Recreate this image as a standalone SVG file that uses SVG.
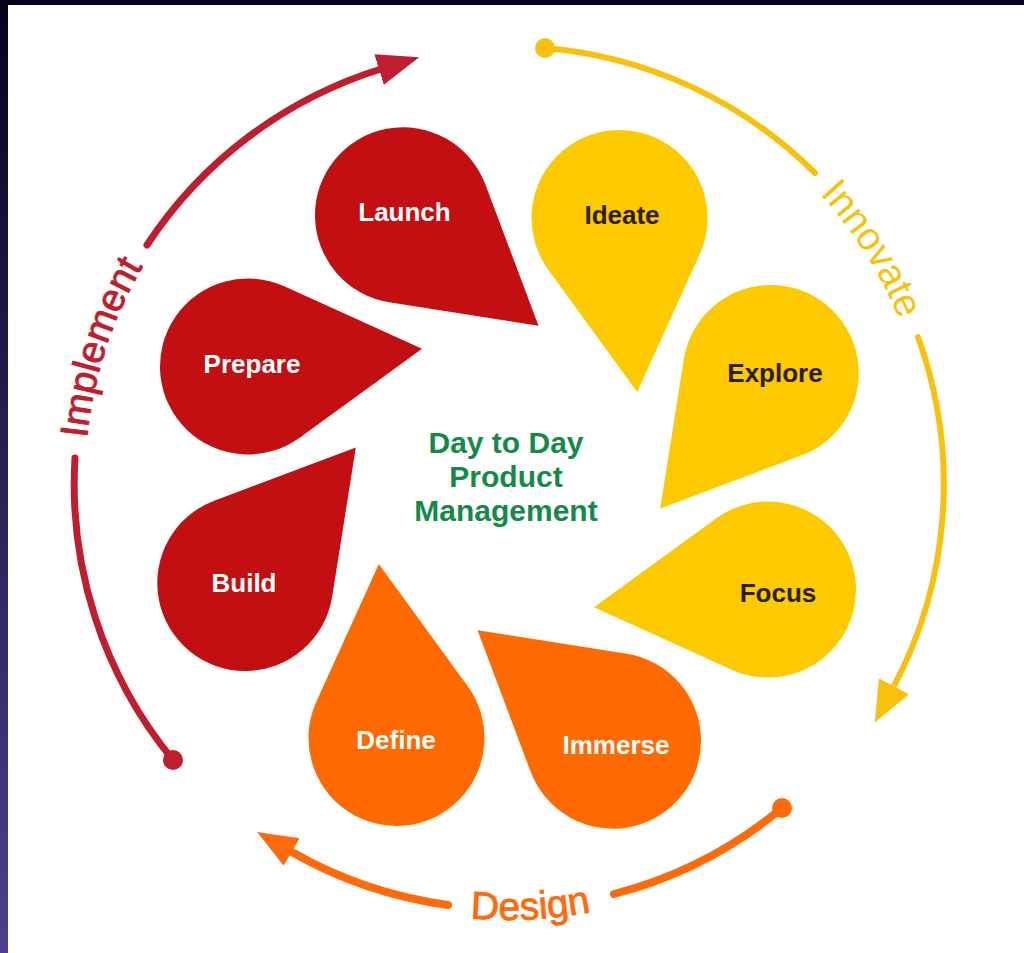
<svg xmlns="http://www.w3.org/2000/svg" width="1024" height="953" viewBox="0 0 1024 953">
<style>
.drop{stroke:none}
.red{fill:#c10f12}
.yel{fill:#fdc900}
.org{fill:#ff6a00}
.lbl{font-family:"Liberation Sans",Arial,sans-serif;font-weight:bold;font-size:26px;text-anchor:middle}
.lw{fill:#ffffff}
.ld{fill:#2a2012}
.title{font-family:"Liberation Sans",Arial,sans-serif;font-weight:bold;font-size:30px;text-anchor:middle;fill:#148a47}
.arc{fill:none;stroke-linecap:round}
.arcl{font-family:"Liberation Sans",Arial,sans-serif;font-size:39px}
.thick{stroke-width:0.9px}
</style>
<defs>
<linearGradient id="side" x1="0" y1="0" x2="0" y2="1">
<stop offset="0" stop-color="#05031c"/>
<stop offset="1" stop-color="#4d3f8f"/>
</linearGradient>
<path id="drop" d="M175,0 L44.3,-76.1 A88,88 0 1 0 44.3,76.1 Z"/>
<marker id="arrR" viewBox="0 -20 50 40" markerWidth="50" markerHeight="40" refX="2" refY="0" orient="auto" markerUnits="userSpaceOnUse"><path d="M0,-16 L42,0 L0,16 Z" fill="#be1e2d"/></marker>
<marker id="arrY" viewBox="0 -20 50 40" markerWidth="50" markerHeight="40" refX="2" refY="0" orient="auto" markerUnits="userSpaceOnUse"><path d="M0,-17 L41,0 L0,17 Z" fill="#f9c10e"/></marker>
<marker id="arrO" viewBox="0 -20 50 40" markerWidth="50" markerHeight="40" refX="2" refY="0" orient="auto" markerUnits="userSpaceOnUse"><path d="M0,-16 L40,0 L0,16 Z" fill="#ff6b0a"/></marker>
<marker id="dotR" viewBox="-12 -12 24 24" markerWidth="24" markerHeight="24" refX="0" refY="0" markerUnits="userSpaceOnUse"><circle r="10" fill="#be1e2d"/></marker>
<marker id="dotY" viewBox="-12 -12 24 24" markerWidth="24" markerHeight="24" refX="0" refY="0" markerUnits="userSpaceOnUse"><circle r="10" fill="#f9c10e"/></marker>
<marker id="dotO" viewBox="-12 -12 24 24" markerWidth="24" markerHeight="24" refX="0" refY="0" markerUnits="userSpaceOnUse"><circle r="10" fill="#ff6b0a"/></marker>
<path id="tpImpl" d="M141.7,691.5 A423,423 0 0 1 336.0,93.6"/>
<path id="tpInno" d="M578.6,62.9 A423,423 0 0 1 915.4,593.7"/>
<path id="tpDes" d="M196.9,791.1 A440,440 0 0 0 849.9,756.9"/>
</defs>
<rect x="0" y="0" width="1024" height="953" fill="#ffffff"/>
<rect x="0" y="0" width="1024" height="5" fill="#05031c"/>
<rect x="0" y="0" width="8" height="953" fill="url(#side)"/>

<g id="connectors">
<path class="arc" stroke="#be1e2d" stroke-width="7" d="M173,760 A434,434 0 0 1 75,458" marker-start="url(#dotR)"/>
<path class="arc" stroke="#be1e2d" stroke-width="7" d="M147,245 A434,434 0 0 1 381,69" marker-end="url(#arrR)"/>
<path class="arc" stroke="#f9c10e" stroke-width="6" d="M545,48 A434,434 0 0 1 815,173" marker-start="url(#dotY)"/>
<path class="arc" stroke="#f9c10e" stroke-width="6" d="M918,337 A434,434 0 0 1 893,688" marker-end="url(#arrY)"/>
<path class="arc" stroke="#ff6b0a" stroke-width="8" d="M782,808 A434,434 0 0 1 614,894" marker-start="url(#dotO)"/>
<path class="arc" stroke="#ff6b0a" stroke-width="8" d="M448,905 A434,434 0 0 1 290,851" marker-end="url(#arrO)"/>
</g>

<g id="phase-labels">
<text class="arcl thick" fill="#be1e2d" stroke="#be1e2d"><textPath href="#tpImpl" startOffset="50%" text-anchor="middle">Implement</textPath></text>
<text class="arcl" fill="#f9c10e"><textPath href="#tpInno" startOffset="50%" text-anchor="middle">Innovate</textPath></text>
<text class="arcl thick" fill="#ff6b0a" stroke="#ff6b0a"><textPath href="#tpDes" startOffset="50%" text-anchor="middle">Design</textPath></text>
</g>

<g id="focus"><use href="#drop" class="drop yel" transform="translate(768.1,589.5) rotate(174.2)"/><text class="lbl ld" x="778" y="602">Focus</text></g>
<g id="immerse"><use href="#drop" class="drop org" transform="translate(613.1,740.8) rotate(219.2)"/><text class="lbl lw" x="616" y="754">Immerse</text></g>
<g id="define"><use href="#drop" class="drop org" transform="translate(396.5,738.1) rotate(264.2)"/><text class="lbl lw" x="396" y="749">Define</text></g>
<g id="build"><use href="#drop" class="drop red" transform="translate(245.2,583.1) rotate(309.2)"/><text class="lbl lw" x="244" y="592">Build</text></g>
<g id="prepare"><use href="#drop" class="drop red" transform="translate(247.9,366.5) rotate(354.2)"/><text class="lbl lw" x="252" y="373">Prepare</text></g>
<g id="launch"><use href="#drop" class="drop red" transform="translate(402.9,215.2) rotate(39.2)"/><text class="lbl lw" x="404.5" y="221">Launch</text></g>
<g id="ideate"><use href="#drop" class="drop yel" transform="translate(619.5,217.9) rotate(84.2)"/><text class="lbl ld" x="622" y="224">Ideate</text></g>
<g id="explore"><use href="#drop" class="drop yel" transform="translate(770.8,372.9) rotate(129.2)"/><text class="lbl ld" x="775" y="382">Explore</text></g>

<g id="center">
<text class="title" x="506" y="453">Day to Day</text>
<text class="title" x="506" y="487">Product</text>
<text class="title" x="506" y="521">Management</text>
</g>
</svg>
